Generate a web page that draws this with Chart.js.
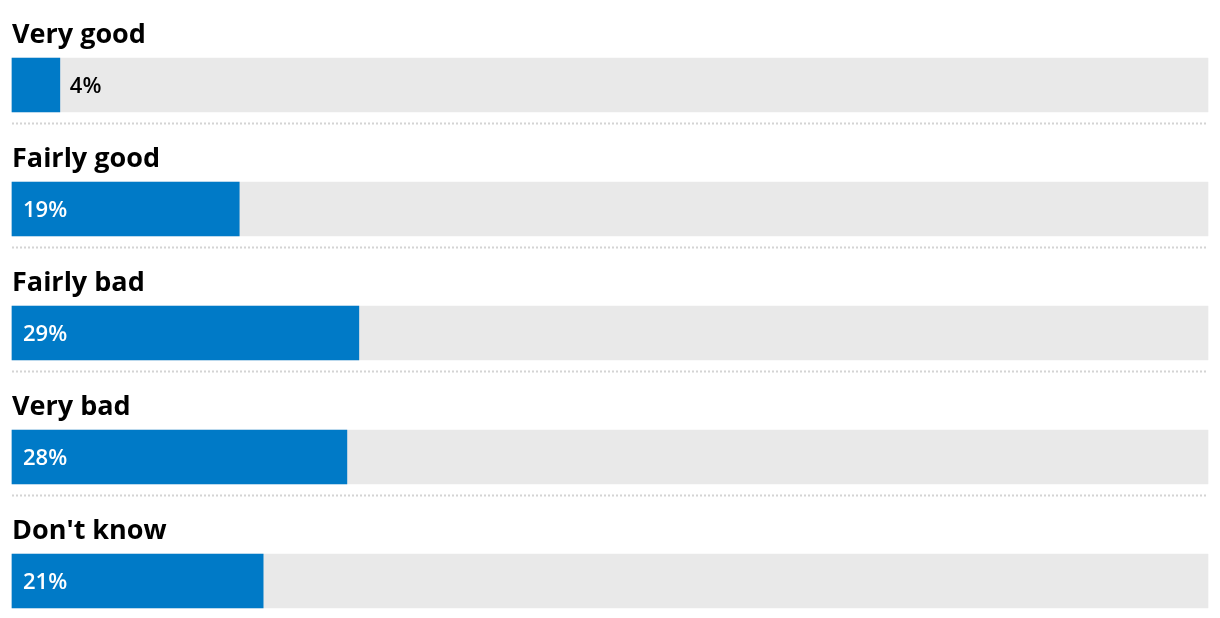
<!DOCTYPE html>
<html>
<head>
<meta charset="utf-8">
<script src="https://cdn.jsdelivr.net/npm/chart.js@4/dist/chart.umd.min.js"></script>
<style>
  html, body { margin: 0; padding: 0; background: #fff; }
  #wrap { width: 1220px; height: 618px; position: relative; }
</style>
</head>
<body>
<div id="wrap"><canvas id="chart"></canvas></div>
<script>
// answers and share of respondents (%)
const categories = ["Very good", "Fairly good", "Fairly bad", "Very bad", "Don't know"];
const shares = [4, 19, 29, 28, 21];
const trackMax = 100;

const BLUE = '#007AC7';
const TRACK = '#E9E9E9';
const BAR_H = 54;

// row titles, value labels and dotted separators
const rowDecor = {
  id: 'rowDecor',
  afterDatasetsDraw(chart) {
    const ctx = chart.ctx;
    const y = chart.scales.y;
    const x = chart.scales.x;
    const left = x.getPixelForValue(0);
    const right = x.getPixelForValue(trackMax);
    ctx.save();
    categories.forEach((cat, i) => {
      const cy = y.getPixelForValue(i);
      const top = cy - BAR_H / 2;

      // title above the bar
      ctx.fillStyle = '#000';
      ctx.font = 'bold 27px "Open Sans"';
      ctx.textAlign = 'left';
      ctx.textBaseline = 'alphabetic';
      ctx.fillText(cat, left, top - 15);

      // value
      const end = x.getPixelForValue(shares[i]);
      ctx.font = '600 22px "Open Sans"';
      const txt = shares[i] + '%';
      const w = ctx.measureText(txt).width;
      if (end - left > w + 24) {
        ctx.fillStyle = '#fff';
        ctx.fillText(txt, left + 11, cy + 8);
      } else {
        ctx.fillStyle = '#000';
        ctx.fillText(txt, end + 10, cy + 8);
      }

      // dotted separator under every row but the last
      if (i < categories.length - 1) {
        const sy = cy + BAR_H / 2 + 11.5;
        ctx.strokeStyle = '#D4D4D4';
        ctx.lineWidth = 2;
        ctx.setLineDash([2, 2]);
        ctx.beginPath();
        ctx.moveTo(left, sy);
        ctx.lineTo(right, sy);
        ctx.stroke();
        ctx.setLineDash([]);
      }
    });
    ctx.restore();
  }
};

new Chart(document.getElementById('chart'), {
  type: 'bar',
  data: {
    labels: categories,
    datasets: [
      {
        label: 'Share',
        data: shares,
        backgroundColor: BLUE,
        barThickness: BAR_H,
        grouped: false,
        order: 0,
        clip: false
      },
      {
        label: 'Track',
        data: categories.map(() => trackMax),
        backgroundColor: TRACK,
        barThickness: BAR_H,
        grouped: false,
        order: 1,
        clip: false
      }
    ]
  },
  options: {
    indexAxis: 'y',
    responsive: true,
    maintainAspectRatio: false,
    animation: false,
    layout: { padding: { left: 12, right: 12, top: 85, bottom: 37 } },
    scales: {
      x: { min: 0, max: trackMax, display: false },
      y: { display: false, offset: false }
    },
    plugins: {
      legend: { display: false },
      tooltip: { enabled: false }
    }
  },
  plugins: [rowDecor]
});
</script>
</body>
</html>
